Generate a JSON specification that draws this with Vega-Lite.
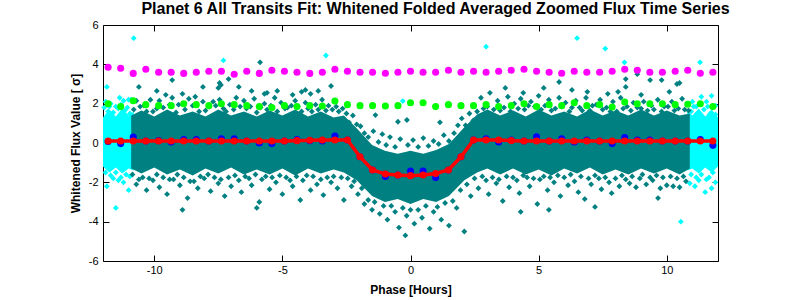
{"$schema":"https://vega.github.io/schema/vega-lite/v6.json","width":615,"height":236,"autosize":"none","padding":{"left":103,"top":25,"right":75,"bottom":39},"background":"white",
"title":{"text":"Planet 6 All Transits Fit: Whitened Folded Averaged Zoomed Flux Time Series","font":"Liberation Sans","fontSize":16,"fontWeight":"bold","color":"black","offset":2,"anchor":"middle","dx":25},
"config":{"view":{"stroke":"black","strokeWidth":1},"axis":{"grid":false,"domain":false,"tickColor":"black","tickSize":-6,"labelFont":"Liberation Sans","labelFontSize":11,"labelColor":"black","titleFont":"Liberation Sans","titleFontSize":12,"titleFontWeight":"bold","titleColor":"black"}},
"datasets":{
"bins":[{"x":-11.8,"mag":3.85,"grn":2.0,"blu":0.08,"red":0.1},{"x":-11.31,"mag":3.8,"grn":1.85,"blu":-0.03,"red":0.1},{"x":-10.82,"mag":3.54,"grn":2.15,"blu":0.3,"red":0.1},{"x":-10.33,"mag":3.75,"grn":1.95,"blu":0.1,"red":0.1},{"x":-9.83,"mag":3.6,"grn":1.9,"blu":0.12,"red":0.1},{"x":-9.34,"mag":3.6,"grn":1.9,"blu":0.05,"red":0.1},{"x":-8.85,"mag":3.54,"grn":2.0,"blu":0.17,"red":0.1},{"x":-8.36,"mag":3.6,"grn":1.95,"blu":0.17,"red":0.1},{"x":-7.87,"mag":3.65,"grn":1.9,"blu":0.1,"red":0.1},{"x":-7.38,"mag":3.65,"grn":2.0,"blu":0.22,"red":0.1},{"x":-6.88,"mag":3.5,"grn":1.95,"blu":0.22,"red":0.1},{"x":-6.39,"mag":3.65,"grn":1.9,"blu":0.1,"red":0.1},{"x":-5.9,"mag":3.54,"grn":1.85,"blu":0.0,"red":0.1},{"x":-5.41,"mag":3.7,"grn":1.8,"blu":-0.03,"red":0.1},{"x":-4.92,"mag":3.65,"grn":1.9,"blu":0.1,"red":0.1},{"x":-4.43,"mag":3.6,"grn":1.85,"blu":0.17,"red":0.12},{"x":-3.93,"mag":3.54,"grn":1.9,"blu":0.12,"red":0.14},{"x":-3.44,"mag":3.6,"grn":1.88,"blu":0.1,"red":0.15},{"x":-2.95,"mag":3.75,"grn":2.13,"blu":0.35,"red":0.15},{"x":-2.46,"mag":3.65,"grn":1.95,"blu":0.15,"red":0.15},{"x":-1.97,"mag":3.6,"grn":1.9,"blu":-0.7,"red":-0.7},{"x":-1.48,"mag":3.6,"grn":1.9,"blu":-1.37,"red":-1.37},{"x":-0.98,"mag":3.55,"grn":1.88,"blu":-1.7,"red":-1.58},{"x":-0.49,"mag":3.6,"grn":1.9,"blu":-1.63,"red":-1.63},{"x":0,"mag":3.65,"grn":2.05,"blu":-1.42,"red":-1.66},{"x":0.49,"mag":3.6,"grn":2.05,"blu":-1.42,"red":-1.63},{"x":0.98,"mag":3.6,"grn":1.85,"blu":-1.75,"red":-1.55},{"x":1.48,"mag":3.7,"grn":1.95,"blu":-1.37,"red":-1.37},{"x":1.97,"mag":3.6,"grn":1.9,"blu":-0.7,"red":-0.7},{"x":2.46,"mag":3.65,"grn":1.9,"blu":0.15,"red":0.15},{"x":2.95,"mag":3.6,"grn":1.95,"blu":0.22,"red":0.15},{"x":3.44,"mag":3.65,"grn":1.85,"blu":0.05,"red":0.15},{"x":3.93,"mag":3.7,"grn":1.9,"blu":0.15,"red":0.12},{"x":4.43,"mag":3.75,"grn":2.0,"blu":0.1,"red":0.1},{"x":4.92,"mag":3.65,"grn":1.85,"blu":0.32,"red":0.1},{"x":5.41,"mag":3.6,"grn":1.95,"blu":0.1,"red":0.1},{"x":5.9,"mag":3.55,"grn":1.9,"blu":0.22,"red":0.1},{"x":6.39,"mag":3.65,"grn":2.05,"blu":0.05,"red":0.1},{"x":6.88,"mag":3.6,"grn":1.9,"blu":0.15,"red":0.1},{"x":7.38,"mag":3.6,"grn":1.95,"blu":0.1,"red":0.1},{"x":7.87,"mag":3.65,"grn":1.83,"blu":-0.03,"red":0.1},{"x":8.36,"mag":3.75,"grn":2.08,"blu":0.28,"red":0.1},{"x":8.85,"mag":3.7,"grn":2.0,"blu":0.15,"red":0.1},{"x":9.34,"mag":3.6,"grn":2.0,"blu":0.15,"red":0.1},{"x":9.83,"mag":3.6,"grn":2.0,"blu":0.1,"red":0.1},{"x":10.33,"mag":3.65,"grn":1.95,"blu":0.1,"red":0.1},{"x":10.82,"mag":3.7,"grn":1.97,"blu":0.1,"red":0.1},{"x":11.31,"mag":3.55,"grn":2.0,"blu":0.17,"red":0.1},{"x":11.8,"mag":3.6,"grn":1.85,"blu":-0.12,"red":0.1}],
"tealcore":[{"x":-10.9,"lo":-1.3,"hi":1.4},{"x":-10.5,"lo":-1.55,"hi":1.65},{"x":-10,"lo":-1.25,"hi":1.35},{"x":-9.5,"lo":-1.6,"hi":1.7},{"x":-9,"lo":-1.35,"hi":1.4},{"x":-8.5,"lo":-1.65,"hi":1.6},{"x":-8,"lo":-1.3,"hi":1.35},{"x":-7.5,"lo":-1.55,"hi":1.7},{"x":-7,"lo":-1.25,"hi":1.4},{"x":-6.5,"lo":-1.6,"hi":1.6},{"x":-6,"lo":-1.35,"hi":1.35},{"x":-5.5,"lo":-1.6,"hi":1.65},{"x":-5,"lo":-1.3,"hi":1.4},{"x":-4.5,"lo":-1.65,"hi":1.7},{"x":-4,"lo":-1.3,"hi":1.35},{"x":-3.5,"lo":-1.55,"hi":1.6},{"x":-3,"lo":-1.35,"hi":1.3},{"x":-2.6,"lo":-1.5,"hi":1.4},{"x":-2.1,"lo":-1.9,"hi":0.75},{"x":-1.5,"lo":-2.7,"hi":-0.1},{"x":-1,"lo":-3.0,"hi":-0.4},{"x":-0.5,"lo":-2.85,"hi":-0.55},{"x":0,"lo":-3.1,"hi":-0.4},{"x":0.5,"lo":-2.85,"hi":-0.55},{"x":1,"lo":-3.0,"hi":-0.35},{"x":1.5,"lo":-2.7,"hi":-0.05},{"x":2.1,"lo":-1.9,"hi":0.8},{"x":2.6,"lo":-1.5,"hi":1.45},{"x":3,"lo":-1.3,"hi":1.7},{"x":3.5,"lo":-1.6,"hi":1.4},{"x":4,"lo":-1.3,"hi":1.65},{"x":4.5,"lo":-1.6,"hi":1.35},{"x":5,"lo":-1.35,"hi":1.7},{"x":5.5,"lo":-1.65,"hi":1.4},{"x":6,"lo":-1.3,"hi":1.6},{"x":6.5,"lo":-1.55,"hi":1.35},{"x":7,"lo":-1.25,"hi":1.7},{"x":7.5,"lo":-1.6,"hi":1.4},{"x":8,"lo":-1.35,"hi":1.65},{"x":8.5,"lo":-1.6,"hi":1.4},{"x":9,"lo":-1.3,"hi":1.7},{"x":9.5,"lo":-1.55,"hi":1.4},{"x":10,"lo":-1.3,"hi":1.65},{"x":10.5,"lo":-1.6,"hi":1.4},{"x":10.9,"lo":-1.3,"hi":1.5}],
"cyancoreL":[{"x":-12,"lo":-1.2,"hi":1.3},{"x":-11.75,"lo":-1.5,"hi":1.7},{"x":-11.5,"lo":-1.25,"hi":1.35},{"x":-11.25,"lo":-1.55,"hi":1.75},{"x":-11,"lo":-1.3,"hi":1.4},{"x":-10.8,"lo":-1.4,"hi":1.6}],
"cyancoreR":[{"x":10.8,"lo":-1.4,"hi":1.6},{"x":11,"lo":-1.3,"hi":1.4},{"x":11.25,"lo":-1.55,"hi":1.75},{"x":11.5,"lo":-1.25,"hi":1.35},{"x":11.75,"lo":-1.5,"hi":1.7},{"x":12,"lo":-1.2,"hi":1.3}],
"cyan":[{"x":-10.8,"y":5.33},{"x":-7.3,"y":4.2},{"x":-11.85,"y":2.85},{"x":7.6,"y":4.8},{"x":6.5,"y":5.33},{"x":2.95,"y":4.9},{"x":-3.3,"y":4.45},{"x":10.55,"y":-4},{"x":-11.5,"y":-3.3},{"x":8.35,"y":4.1},{"x":11.3,"y":4.1},{"x":-0.3,"y":2.13},{"x":-11.9,"y":2.1},{"x":-11.7,"y":2.0},{"x":-11.5,"y":1.85},{"x":-11.35,"y":2.3},{"x":-11.2,"y":2.15},{"x":-11.0,"y":2.2},{"x":-10.9,"y":2.2},{"x":-11.95,"y":1.8},{"x":-11.8,"y":1.6},{"x":-11.6,"y":1.55},{"x":-11.4,"y":1.75},{"x":-11.15,"y":1.65},{"x":-10.95,"y":1.5},{"x":-11.75,"y":1.85},{"x":-11.3,"y":1.95},{"x":-11.05,"y":1.8},{"x":-11.9,"y":-1.5},{"x":-11.7,"y":-1.65},{"x":-11.5,"y":-1.5},{"x":-11.3,"y":-1.75},{"x":-11.1,"y":-1.6},{"x":-10.95,"y":-1.7},{"x":-11.6,"y":-1.8},{"x":-11.2,"y":-2.0},{"x":-11.85,"y":-2.2},{"x":-11.0,"y":-2.4},{"x":-11.4,"y":-1.9},{"x":11.0,"y":2.1},{"x":11.15,"y":1.85},{"x":11.35,"y":2.35},{"x":11.55,"y":2.1},{"x":11.75,"y":2.4},{"x":11.9,"y":1.9},{"x":10.95,"y":1.6},{"x":11.2,"y":1.5},{"x":11.45,"y":1.7},{"x":11.7,"y":1.5},{"x":11.9,"y":1.45},{"x":11.05,"y":1.85},{"x":11.6,"y":1.85},{"x":10.95,"y":-1.6},{"x":11.15,"y":-1.75},{"x":11.35,"y":-1.6},{"x":11.55,"y":-1.85},{"x":11.8,"y":-1.5},{"x":11.25,"y":-1.9},{"x":11.65,"y":-1.75},{"x":10.9,"y":-2.05},{"x":11.5,"y":-2.5},{"x":11.75,"y":-2.3},{"x":11.1,"y":-2.2},{"x":11.9,"y":-2.0}],
"teal":[{"x":-5.87,"y":4.1},{"x":-9.3,"y":3.2},{"x":-10.6,"y":2.85},{"x":-8.1,"y":2.85},{"x":-7.4,"y":2.95},{"x":-7.1,"y":3.25},{"x":-6.7,"y":2.85},{"x":-7.5,"y":2.8},{"x":-7.45,"y":3.05},{"x":9.66,"y":-2.8},{"x":8.4,"y":3.25},{"x":8.4,"y":2.85},{"x":9.35,"y":3.2},{"x":9.8,"y":3.2},{"x":10.4,"y":3.0},{"x":10.5,"y":3.05},{"x":8.85,"y":3.5},{"x":-9.9,"y":2.65},{"x":-6.2,"y":2.65},{"x":-5.7,"y":2.5},{"x":-5.6,"y":2.55},{"x":-5.2,"y":2.65},{"x":-4.6,"y":2.45},{"x":-4.25,"y":2.6},{"x":-4.1,"y":2.7},{"x":-3.9,"y":2.5},{"x":-3.6,"y":2.65},{"x":-3.1,"y":2.9},{"x":5.2,"y":2.8},{"x":5.8,"y":3.1},{"x":6.3,"y":2.7},{"x":6.9,"y":2.6},{"x":7.7,"y":2.5},{"x":8.1,"y":2.6},{"x":9.0,"y":2.45},{"x":10.1,"y":2.6},{"x":3.7,"y":2.8},{"x":4.4,"y":2.55},
{"x":-10.8,"y":1.7},{"x":-10.7,"y":2.15},{"x":-10.55,"y":1.85},{"x":-10.4,"y":1.9},{"x":-10.3,"y":1.6},{"x":-10.15,"y":2.2},{"x":-10.05,"y":1.6},{"x":-9.9,"y":1.75},{"x":-9.8,"y":2.15},{"x":-9.65,"y":1.8},{"x":-9.55,"y":2.45},{"x":-9.4,"y":1.95},{"x":-9.3,"y":2.3},{"x":-9.15,"y":1.55},{"x":-9.05,"y":1.95},{"x":-8.9,"y":2.5},{"x":-8.8,"y":1.7},{"x":-8.65,"y":2.25},{"x":-8.5,"y":1.9},{"x":-8.4,"y":2.35},{"x":-8.25,"y":1.6},{"x":-8.1,"y":2.1},{"x":-8.0,"y":1.65},{"x":-7.85,"y":1.85},{"x":-7.7,"y":2.1},{"x":-7.6,"y":1.9},{"x":-7.45,"y":2.2},{"x":-7.3,"y":1.75},{"x":-7.2,"y":1.6},{"x":-7.05,"y":1.95},{"x":-6.9,"y":1.7},{"x":-6.8,"y":2.3},{"x":-6.65,"y":1.85},{"x":-6.5,"y":2.15},{"x":-6.4,"y":1.75},{"x":-6.25,"y":1.85},{"x":-6.1,"y":2.25},{"x":-6.0,"y":1.55},{"x":-5.85,"y":1.8},{"x":-5.7,"y":2.0},{"x":-5.6,"y":1.7},{"x":-5.45,"y":1.9},{"x":-5.3,"y":2.3},{"x":-5.2,"y":1.6},{"x":-5.05,"y":2.05},{"x":-4.9,"y":1.75},{"x":-4.8,"y":1.8},{"x":-4.65,"y":1.9},{"x":-4.5,"y":2.15},{"x":-4.4,"y":1.85},{"x":-4.25,"y":1.6},{"x":-4.1,"y":2.05},{"x":-4.0,"y":1.75},{"x":-3.85,"y":1.6},{"x":-3.7,"y":1.95},{"x":-3.6,"y":1.7},{"x":-3.45,"y":2.2},{"x":-3.3,"y":1.65},{"x":-3.2,"y":1.9},{"x":-3.05,"y":1.7},{"x":-2.9,"y":1.85},{"x":-2.8,"y":1.6},{"x":-2.65,"y":1.75},{"x":-2.5,"y":1.5},{"x":-2.4,"y":1.05},{"x":-2.25,"y":1.4},{"x":-2.1,"y":0.95},{"x":-1.95,"y":0.85},{"x":-1.8,"y":0.5},{"x":-1.37,"y":1.42},{"x":-1.65,"y":0.3},{"x":-1.45,"y":0.6},{"x":-1.25,"y":0.05},{"x":-1.1,"y":0.45},{"x":-0.95,"y":-0.1},{"x":-0.8,"y":0.3},{"x":-0.6,"y":-0.2},{"x":-0.49,"y":1.08},{"x":-0.4,"y":0.2},{"x":-0.14,"y":1.17},{"x":-0.1,"y":-0.1},{"x":0.1,"y":0.15},{"x":0.3,"y":-0.2},{"x":0.5,"y":0.25},{"x":0.7,"y":-0.15},{"x":0.9,"y":0.1},{"x":1.15,"y":1.05},{"x":1.1,"y":-0.05},{"x":1.3,"y":0.4},{"x":1.5,"y":0.1},{"x":1.7,"y":0.5},{"x":1.85,"y":0.9},{"x":2.0,"y":1.25},{"x":2.15,"y":0.9},{"x":2.3,"y":1.5},{"x":2.45,"y":1.15},
{"x":2.6,"y":1.6},{"x":2.75,"y":2.3},{"x":2.85,"y":1.75},{"x":3.0,"y":1.85},{"x":3.1,"y":2.55},{"x":3.25,"y":1.7},{"x":3.4,"y":2.15},{"x":3.5,"y":1.65},{"x":3.65,"y":1.8},{"x":3.8,"y":2.35},{"x":3.9,"y":1.6},{"x":4.05,"y":2.0},{"x":4.2,"y":1.75},{"x":4.3,"y":2.25},{"x":4.45,"y":1.7},{"x":4.6,"y":1.9},{"x":4.7,"y":2.1},{"x":4.85,"y":1.85},{"x":5.0,"y":2.4},{"x":5.1,"y":1.7},{"x":5.25,"y":1.9},{"x":5.4,"y":2.2},{"x":5.5,"y":1.65},{"x":5.65,"y":1.75},{"x":5.8,"y":2.3},{"x":5.9,"y":1.85},{"x":6.05,"y":2.05},{"x":6.2,"y":1.6},{"x":6.3,"y":1.8},{"x":6.45,"y":2.15},{"x":6.6,"y":1.8},{"x":6.7,"y":1.65},{"x":6.85,"y":2.3},{"x":7.0,"y":1.65},{"x":7.1,"y":1.9},{"x":7.25,"y":1.95},{"x":7.4,"y":2.2},{"x":7.5,"y":1.7},{"x":7.65,"y":1.8},{"x":7.8,"y":1.6},{"x":7.9,"y":2.1},{"x":8.05,"y":1.6},{"x":8.2,"y":2.3},{"x":8.3,"y":1.75},{"x":8.45,"y":1.85},{"x":8.6,"y":1.65},{"x":8.7,"y":2.05},{"x":8.85,"y":1.8},{"x":9.0,"y":1.75},{"x":9.1,"y":2.1},{"x":9.25,"y":1.65},{"x":9.4,"y":1.9},{"x":9.5,"y":1.7},{"x":9.65,"y":2.2},{"x":9.8,"y":1.6},{"x":9.9,"y":1.85},{"x":10.05,"y":1.85},{"x":10.2,"y":2.1},{"x":10.3,"y":1.65},{"x":10.45,"y":1.75},{"x":10.6,"y":2.25},{"x":10.7,"y":1.7},{"x":10.85,"y":1.65},
{"x":-10.85,"y":-1.6},{"x":-10.7,"y":-2.1},{"x":-10.6,"y":-1.85},{"x":-10.45,"y":-1.75},{"x":-10.3,"y":-2.4},{"x":-10.2,"y":-1.8},{"x":-10.05,"y":-1.9},{"x":-9.9,"y":-1.6},{"x":-9.8,"y":-2.25},{"x":-9.65,"y":-1.75},{"x":-9.5,"y":-2.6},{"x":-9.4,"y":-1.85},{"x":-9.25,"y":-1.85},{"x":-9.1,"y":-1.6},{"x":-9.0,"y":-2.15},{"x":-8.85,"y":-1.75},{"x":-8.7,"y":-2.8},{"x":-8.6,"y":-1.95},{"x":-8.45,"y":-1.95},{"x":-8.3,"y":-2.3},{"x":-8.2,"y":-1.7},{"x":-8.05,"y":-1.8},{"x":-7.9,"y":-1.6},{"x":-7.8,"y":-2.45},{"x":-7.65,"y":-1.75},{"x":-7.5,"y":-2.05},{"x":-7.4,"y":-1.85},{"x":-7.25,"y":-2.7},{"x":-7.1,"y":-1.75},{"x":-7.0,"y":-2.2},{"x":-6.85,"y":-1.65},{"x":-6.7,"y":-1.9},{"x":-6.6,"y":-2.5},{"x":-6.45,"y":-1.7},{"x":-6.3,"y":-1.8},{"x":-6.2,"y":-2.15},{"x":-6.05,"y":-1.6},{"x":-5.9,"y":-3.0},{"x":-5.8,"y":-1.85},{"x":-5.65,"y":-1.7},{"x":-5.5,"y":-2.35},{"x":-5.4,"y":-1.75},{"x":-5.25,"y":-2.0},{"x":-5.1,"y":-1.65},{"x":-5.0,"y":-2.6},{"x":-4.85,"y":-1.75},{"x":-4.7,"y":-1.9},{"x":-4.6,"y":-2.2},{"x":-4.45,"y":-1.7},{"x":-4.3,"y":-2.9},{"x":-4.2,"y":-1.9},{"x":-4.05,"y":-1.65},{"x":-3.9,"y":-2.4},{"x":-3.8,"y":-1.7},{"x":-3.65,"y":-2.1},{"x":-3.5,"y":-1.85},{"x":-3.4,"y":-2.65},{"x":-3.25,"y":-1.75},{"x":-3.1,"y":-2.0},{"x":-3.0,"y":-1.7},{"x":-2.85,"y":-2.3},{"x":-2.7,"y":-1.75},{"x":-2.6,"y":-2.9},{"x":-2.45,"y":-1.8},{"x":-2.3,"y":-2.2},{"x":-2.2,"y":-1.95},{"x":-2.05,"y":-2.6},{"x":-1.9,"y":-2.3},{"x":-1.8,"y":-3.1},{"x":-1.65,"y":-2.9},{"x":-1.5,"y":-3.4},{"x":-1.4,"y":-3.0},{"x":-1.2,"y":-3.6},{"x":-1.05,"y":-3.2},{"x":-0.9,"y":-3.9},{"x":-0.75,"y":-3.2},{"x":-0.6,"y":-3.5},{"x":-0.45,"y":-4.3},{"x":-0.3,"y":-3.3},{"x":-0.15,"y":-3.7},{"x":-0.2,"y":-4.7},{"x":0,"y":-3.4},{"x":0.15,"y":-4.1},{"x":0.3,"y":-3.4},{"x":0.45,"y":-3.8},{"x":0.6,"y":-3.2},{"x":0.75,"y":-4.35},{"x":0.9,"y":-3.5},{"x":1.05,"y":-3.25},{"x":1.2,"y":-3.9},{"x":1.35,"y":-3.05},{"x":1.5,"y":-4.2},{"x":1.65,"y":-2.95},{"x":1.8,"y":-3.3},{"x":1.95,"y":-2.4},{"x":2.1,"y":-4.5},{"x":2.2,"y":-2.1},{"x":2.35,"y":-2.7},{"x":2.5,"y":-1.8},{"x":2.65,"y":-2.3},
{"x":2.8,"y":-1.7},{"x":2.95,"y":-1.9},{"x":3.05,"y":-2.6},{"x":3.2,"y":-1.75},{"x":3.35,"y":-2.05},{"x":3.45,"y":-1.85},{"x":3.6,"y":-2.95},{"x":3.75,"y":-1.7},{"x":3.85,"y":-2.25},{"x":4.0,"y":-1.75},{"x":4.15,"y":-1.9},{"x":4.25,"y":-2.55},{"x":4.4,"y":-1.65},{"x":4.55,"y":-1.75},{"x":4.65,"y":-2.2},{"x":4.8,"y":-1.8},{"x":4.95,"y":-3.1},{"x":5.05,"y":-1.85},{"x":5.2,"y":-1.7},{"x":5.35,"y":-2.4},{"x":5.45,"y":-1.75},{"x":5.6,"y":-2.0},{"x":5.75,"y":-1.65},{"x":5.85,"y":-2.7},{"x":6.0,"y":-1.75},{"x":6.15,"y":-2.15},{"x":6.25,"y":-1.6},{"x":6.4,"y":-1.95},{"x":6.55,"y":-2.5},{"x":6.65,"y":-1.7},{"x":6.8,"y":-2.85},{"x":6.95,"y":-1.8},{"x":7.05,"y":-2.1},{"x":7.2,"y":-1.65},{"x":7.35,"y":-1.8},{"x":7.45,"y":-2.35},{"x":7.6,"y":-1.75},{"x":7.75,"y":-2.0},{"x":7.85,"y":-2.55},{"x":8.0,"y":-1.8},{"x":8.15,"y":-2.2},{"x":8.25,"y":-1.65},{"x":8.4,"y":-1.85},{"x":8.55,"y":-2.05},{"x":8.65,"y":-1.7},{"x":8.8,"y":-2.25},{"x":8.95,"y":-1.8},{"x":9.05,"y":-1.6},{"x":9.2,"y":-2.1},{"x":9.35,"y":-1.75},{"x":9.45,"y":-1.9},{"x":9.6,"y":-1.65},{"x":9.75,"y":-2.3},{"x":9.85,"y":-1.75},{"x":10.0,"y":-2.15},{"x":10.15,"y":-1.7},{"x":10.25,"y":-2.2},{"x":10.4,"y":-1.8},{"x":10.5,"y":-2.25},{"x":10.65,"y":-1.7},{"x":10.75,"y":-1.95},{"x":-8.9,"y":-3.4},{"x":-6.0,"y":-3.3},{"x":4.3,"y":-3.5},{"x":7.2,"y":-3.25},{"x":5.4,"y":-3.4}]
},
"layer":[
{"data":{"name":"cyancoreL"},"mark":{"type":"area","color":"#00ffff"},"encoding":{"x":{"field":"x","type":"quantitative","scale":{"domain":[-12,12],"nice":false,"zero":false},"axis":{"orient":"bottom","values":[-10,-5,0,5,10],"title":"Phase [Hours]","labelPadding":9,"titlePadding":9,"labelExpr":"''+datum.value"}},"y":{"field":"lo","type":"quantitative","scale":{"domain":[-6,6],"nice":false,"zero":false},"axis":{"orient":"left","values":[-6,-4,-2,0,2,4,6],"title":"Whitened Flux Value [ σ]","labelPadding":11,"titlePadding":6,"labelExpr":"''+datum.value"}},"y2":{"field":"hi"}}},
{"data":{"name":"cyancoreR"},"mark":{"type":"area","color":"#00ffff"},"encoding":{"x":{"field":"x","type":"quantitative","axis":{"orient":"top","values":[-10,-5,0,5,10],"labels":false,"title":null}},"y":{"field":"lo","type":"quantitative","axis":{"orient":"right","values":[-6,-4,-2,0,2,4,6],"labels":false,"title":null}},"y2":{"field":"hi"}}},
{"data":{"name":"cyan"},"mark":{"type":"point","shape":"diamond","filled":true,"size":34,"color":"#00ffff","opacity":1},"encoding":{"x":{"field":"x","type":"quantitative","axis":null},"y":{"field":"y","type":"quantitative","axis":null}}},
{"data":{"name":"tealcore"},"mark":{"type":"area","color":"#008080"},"encoding":{"x":{"field":"x","type":"quantitative","axis":null},"y":{"field":"lo","type":"quantitative","axis":null},"y2":{"field":"hi"}}},
{"data":{"name":"teal"},"mark":{"type":"point","shape":"diamond","filled":true,"size":34,"color":"#008080","opacity":1},"encoding":{"x":{"field":"x","type":"quantitative","axis":null},"y":{"field":"y","type":"quantitative","axis":null}}},
{"data":{"name":"bins"},"mark":{"type":"point","shape":"circle","filled":true,"size":50,"color":"#0000ff","opacity":1},"encoding":{"x":{"field":"x","type":"quantitative","axis":null},"y":{"field":"blu","type":"quantitative","axis":null}}},
{"data":{"name":"bins"},"mark":{"type":"point","shape":"circle","filled":true,"size":50,"color":"#00ff00","opacity":1},"encoding":{"x":{"field":"x","type":"quantitative","axis":null},"y":{"field":"grn","type":"quantitative","axis":null}}},
{"data":{"name":"bins"},"mark":{"type":"point","shape":"circle","filled":true,"size":50,"color":"#ff00ff","opacity":1},"encoding":{"x":{"field":"x","type":"quantitative","axis":null},"y":{"field":"mag","type":"quantitative","axis":null}}},
{"data":{"name":"bins"},"mark":{"type":"line","color":"#ff0000","strokeWidth":3.5,"point":{"filled":true,"size":50,"color":"#ff0000","opacity":1}},"encoding":{"x":{"field":"x","type":"quantitative","axis":null},"y":{"field":"red","type":"quantitative","axis":null}}}
],
"resolve":{"axis":{"x":"independent","y":"independent"}}}
